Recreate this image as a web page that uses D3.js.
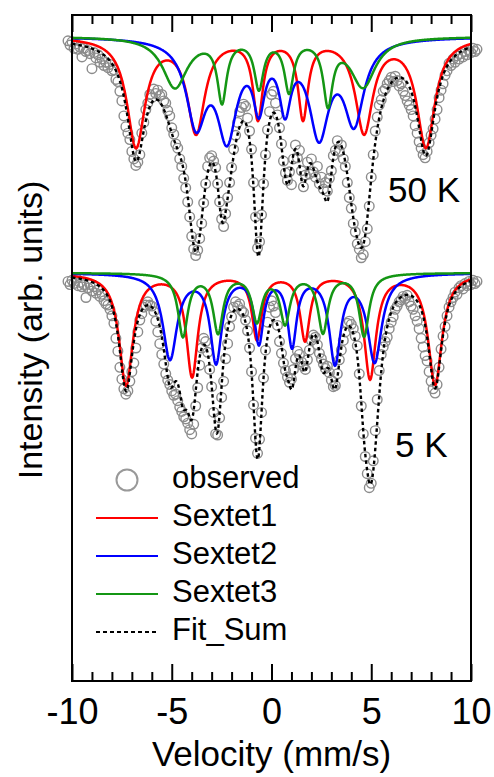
<!DOCTYPE html>
<html><head><meta charset="utf-8">
<script src="https://cdn.jsdelivr.net/npm/d3@7"></script>
<style>body{margin:0;background:#fff}svg text{font-family:"Liberation Sans",Arial,sans-serif;fill:#000}</style>
</head><body><svg id="c" width="494" height="777"></svg>
<script>
// ---- data ----
const spectrumLabels = ["50 K", "5 K"];
const spectrumOffsets = [0, -22];           // vertical offset of each spectrum (arb. units)
const sextetNames = ["Sextet1", "Sextet2", "Sextet3"];
const sextetColors = ["#ff0000", "#0000ff", "#149614"];
const majorTicks = [-10, -5, 0, 5, 10];
const tickLabels = ["-10", "-5", "0", "5", "10"];
const minorTicks = [-9,-8,-7,-6,-4,-3,-2,-1,1,2,3,4,6,7,8,9];

// observed spectra: relative transmission (%), channels from -10.2 mm/s in 0.1 mm/s steps
const velStart = -10.2, velStep = 0.1;
const obs50 = [
  99.6, 99.2, 99.5, 98.9, 99.3, 98.8, 99.0, 98.1, 98.9, 98.6,
  98.7, 98.4, 97.0, 98.5, 98.0, 98.3, 97.6, 97.9, 97.3, 97.6,
  97.1, 97.4, 96.8, 96.9, 96.0, 95.8, 94.9, 94.0, 92.6, 91.6,
  91.0, 90.4, 89.3, 88.6, 88.0, 88.3, 89.0, 91.0, 92.0, 93.2,
  93.8, 94.6, 94.3, 95.1, 94.7, 95.0, 94.5, 94.6, 94.0, 93.8,
  93.1, 92.6, 91.5, 90.9, 90.0, 89.6, 88.6, 87.9, 86.8, 85.9,
  84.6, 83.2, 81.4, 80.2, 79.6, 80.1, 81.2, 82.6, 84.5, 86.3,
  87.9, 88.7, 88.9, 88.4, 87.8, 86.3, 84.6, 83.0, 82.3, 83.5,
  85.0, 86.4, 87.8, 89.5, 90.8, 92.0, 93.0, 93.4, 93.7, 93.5,
  92.4, 91.2, 89.5, 86.4, 83.2, 80.3, 80.9, 83.4, 86.3, 89.0,
  91.3, 93.0, 94.6, 94.9, 93.8, 92.7, 91.5, 90.0, 88.4, 87.3,
  86.6, 87.4, 86.2, 88.6, 89.9, 88.7, 89.4, 87.5, 86.0, 87.1,
  88.3, 87.2, 88.6, 87.4, 86.9, 87.9, 86.3, 86.9, 85.8, 86.4,
  85.6, 86.8, 87.5, 88.9, 89.4, 90.3, 89.3, 89.9, 88.6, 87.9,
  86.4, 85.0, 84.0, 82.6, 81.8, 80.7, 80.2, 79.4, 79.7, 80.9,
  82.1, 84.2, 86.9, 89.0, 91.2, 92.5, 93.6, 94.1, 94.9, 95.1,
  95.6, 95.9, 96.2, 95.8, 96.3, 95.9, 95.4, 95.6, 94.9, 94.5,
  94.0, 93.6, 93.2, 92.6, 91.7, 91.0, 90.2, 89.6, 89.0, 88.7,
  89.3, 90.1, 90.8, 91.4, 92.3, 93.2, 94.3, 95.0, 95.6, 96.4,
  96.8, 97.5, 97.3, 97.9, 97.6, 98.2, 97.9, 98.4, 98.1, 98.6,
  98.3, 98.7, 98.5, 98.9, 98.6, 98.8];
const obs5 = [
  99.2, 98.9, 99.3, 99.0, 99.5, 98.8, 99.1, 98.7, 98.9, 97.7,
  98.6, 98.9, 98.3, 98.7, 98.1, 98.4, 97.8, 98.0, 97.4, 97.1,
  97.0, 96.6, 96.0, 95.3, 93.9, 92.7, 91.2, 90.1, 89.2, 88.7,
  89.0, 89.9, 90.8, 91.6, 93.0, 94.5, 95.6, 96.2, 96.8, 97.0,
  97.3, 97.0, 96.9, 96.4, 95.5, 94.5, 93.4, 92.4, 91.5, 90.6,
  90.0, 89.6, 89.0, 88.6, 88.7, 88.1, 87.5, 87.1, 86.6, 86.4,
  86.0, 85.4, 85.0, 85.9, 87.6, 89.3, 91.4, 93.0, 93.9, 93.6,
  92.6, 91.0, 89.4, 87.0, 85.0, 84.9, 86.5, 88.4, 89.9, 92.0,
  93.4, 95.0, 95.9, 96.8, 97.3, 96.9, 97.1, 96.5, 96.3, 95.6,
  94.6, 93.0, 90.8, 87.7, 84.6, 83.2, 84.5, 87.0, 90.2, 92.8,
  95.4, 96.8, 97.4, 96.9, 96.3, 95.1, 93.6, 92.5, 91.6, 90.9,
  90.3, 89.8, 90.1, 91.0, 92.0, 92.7, 92.4, 91.7, 91.3, 91.0,
  91.9, 92.8, 93.7, 94.2, 94.0, 93.3, 92.5, 92.0, 91.5, 91.1,
  91.3, 90.7, 90.0, 89.4, 89.5, 90.6, 91.9, 92.8, 93.7, 94.5,
  95.3, 95.5, 95.2, 94.8, 94.1, 93.2, 90.6, 87.6, 85.0, 82.9,
  81.3, 80.0, 80.4, 82.5, 85.3, 88.2, 90.9, 92.4, 93.1, 93.6,
  94.0, 94.8, 95.4, 95.9, 96.6, 96.9, 97.3, 97.5, 97.8, 97.6,
  97.9, 97.3, 96.9, 96.6, 96.0, 95.5, 94.8, 93.9, 93.1, 92.3,
  91.8, 90.8, 89.9, 89.2, 88.8, 89.6, 91.2, 92.9, 94.1, 95.0,
  96.0, 96.8, 97.3, 97.7, 98.2, 98.0, 98.6, 98.8, 98.5, 99.0,
  98.8, 99.2, 98.9, 99.3, 99.0, 99.2];

// fitted sextets, 50 K : line positions (mm/s), depths (%), half widths (mm/s)
const pos50 = [
  [-6.79, -3.78, -0.68, 1.58, 4.64, 7.74],
  [-3.78, -2.23, -0.63, 0.68, 2.38, 4.14],
  [-4.84, -2.48, -0.63, 0.88, 2.83, 4.59]];
const depth50 = [
  [10.1, 8.7, 7.3, 7.3, 8.7, 10.1],
  [7.6, 8.7, 5.5, 5.7, 8.6, 7.5],
  [4.7, 5.7, 4.5, 4.8, 5.8, 4.6]];
const hw50 = [
  [0.55, 0.53, 0.30, 0.30, 0.53, 0.55],
  [0.60, 0.60, 0.35, 0.35, 0.60, 0.60],
  [0.75, 0.28, 0.28, 0.28, 0.28, 0.75]];
// fitted sextets, 5 K
const pos5 = [
  [-7.29, -3.98, -0.73, 1.68, 4.94, 8.20],
  [-5.09, -2.78, -0.63, 1.03, 3.18, 5.17],
  [-4.44, -2.68, -0.73, 0.68, 2.58, 4.64]];
const depth5 = [
  [10.4, 9.5, 6.0, 6.1, 9.7, 10.3],
  [7.9, 8.1, 6.2, 6.5, 8.1, 8.1],
  [5.8, 5.4, 4.3, 4.5, 5.4, 5.8]];
const hw5 = [
  [0.42, 0.35, 0.30, 0.30, 0.36, 0.42],
  [0.43, 0.35, 0.28, 0.28, 0.35, 0.43],
  [0.30, 0.30, 0.30, 0.30, 0.30, 0.30]];

// ---- chart ----
const svg = d3.select("#c");
const x = d3.scaleLinear().domain([-10, 10]).range([72, 471]);
const y = d3.scaleLinear().domain([40, 102]).range([681, 15]);

const models = [
  {pos: pos50, depth: depth50, hw: hw50, obs: obs50},
  {pos: pos5, depth: depth5, hw: hw5, obs: obs5}];
const grid = d3.range(-10, 10.0001, 0.02);
function absorb(m, k, v) {
  let s = 0;
  for (let j = 0; j < 6; j++) {
    const t = (v - m.pos[k][j]) / m.hw[k][j];
    s += m.depth[k][j] / (1 + t * t);
  }
  return s;
}
const line = d3.line().x(d => x(d[0])).y(d => y(d[1]));

const plot = svg.append("g");
models.forEach((m, s) => {
  const off = spectrumOffsets[s];
  plot.append("g").selectAll("circle").data(m.obs).join("circle")
    .attr("cx", (d, i) => x(velStart + i * velStep)).attr("cy", d => y(d + off))
    .attr("r", 4.8).attr("fill", "none").attr("stroke", "#8c8c8c").attr("stroke-width", 1.4);
});
models.forEach((m, s) => {
  const base = 100 + spectrumOffsets[s];
  sextetNames.forEach((n, k) => {
    plot.append("path")
      .attr("d", line(grid.map(v => [v, base - absorb(m, k, v)])))
      .attr("fill", "none").attr("stroke", sextetColors[k]).attr("stroke-width", 2.5);
  });
  plot.append("path")
    .attr("d", line(grid.map(v => [v, base - absorb(m, 0, v) - absorb(m, 1, v) - absorb(m, 2, v)])))
    .attr("fill", "none").attr("stroke", "#000").attr("stroke-width", 2.4)
    .attr("stroke-dasharray", "3.5,3");
});

// frame
svg.append("rect").attr("x", 72).attr("y", 15).attr("width", 399).attr("height", 666)
  .attr("fill", "none").attr("stroke", "#000").attr("stroke-width", 2);

function styleAxis(g) {
  g.select(".domain").remove();
  g.selectAll(".tick line").attr("stroke", "#000").attr("stroke-width", 2);
}
svg.append("g").attr("transform", "translate(0,681)")
  .call(d3.axisBottom(x).tickValues(minorTicks).tickSize(-9).tickFormat("")).call(styleAxis);
svg.append("g").attr("transform", "translate(0,681)")
  .call(d3.axisBottom(x).tickValues(majorTicks).tickSizeInner(-17).tickSizeOuter(0)
    .tickPadding(17).tickFormat((d, i) => tickLabels[i]))
  .call(styleAxis)
  .call(g => g.selectAll("text").attr("font-size", 36).attr("font-family", "Liberation Sans, Arial, sans-serif").attr("fill", "#000"));
svg.append("g").attr("transform", "translate(0,15)")
  .call(d3.axisTop(x).tickValues(minorTicks).tickSize(-9).tickFormat("")).call(styleAxis);
svg.append("g").attr("transform", "translate(0,15)")
  .call(d3.axisTop(x).tickValues(majorTicks).tickSize(-17).tickFormat("")).call(styleAxis);

// titles
svg.append("text").attr("x", 271.5).attr("y", 766).attr("text-anchor", "middle")
  .attr("font-size", 35).text("Velocity (mm/s)");
svg.append("text").attr("transform", "translate(42,330) rotate(-90)").attr("text-anchor", "middle")
  .attr("font-size", 34).text("Intensity (arb. units)");
svg.append("text").attr("x", 388).attr("y", 202).attr("font-size", 35).text(spectrumLabels[0]);
svg.append("text").attr("x", 395).attr("y", 457).attr("font-size", 35).text(spectrumLabels[1]);

// legend
const lg = svg.append("g");
lg.append("circle").attr("cx", 127).attr("cy", 480).attr("r", 10.5)
  .attr("fill", "none").attr("stroke", "#999").attr("stroke-width", 2);
lg.append("text").attr("x", 172).attr("y", 488).attr("font-size", 31).text("observed");
sextetNames.forEach((n, k) => {
  const yy = 518 + k * 38;
  lg.append("line").attr("x1", 96).attr("x2", 158).attr("y1", yy).attr("y2", yy)
    .attr("stroke", sextetColors[k]).attr("stroke-width", 2);
  lg.append("text").attr("x", 172).attr("y", yy + 8).attr("font-size", 31).text(n);
});
lg.append("line").attr("x1", 96).attr("x2", 158).attr("y1", 632).attr("y2", 632)
  .attr("stroke", "#000").attr("stroke-width", 2).attr("stroke-dasharray", "4,3");
lg.append("text").attr("x", 172).attr("y", 640).attr("font-size", 31).text("Fit_Sum");
</script></body></html>
